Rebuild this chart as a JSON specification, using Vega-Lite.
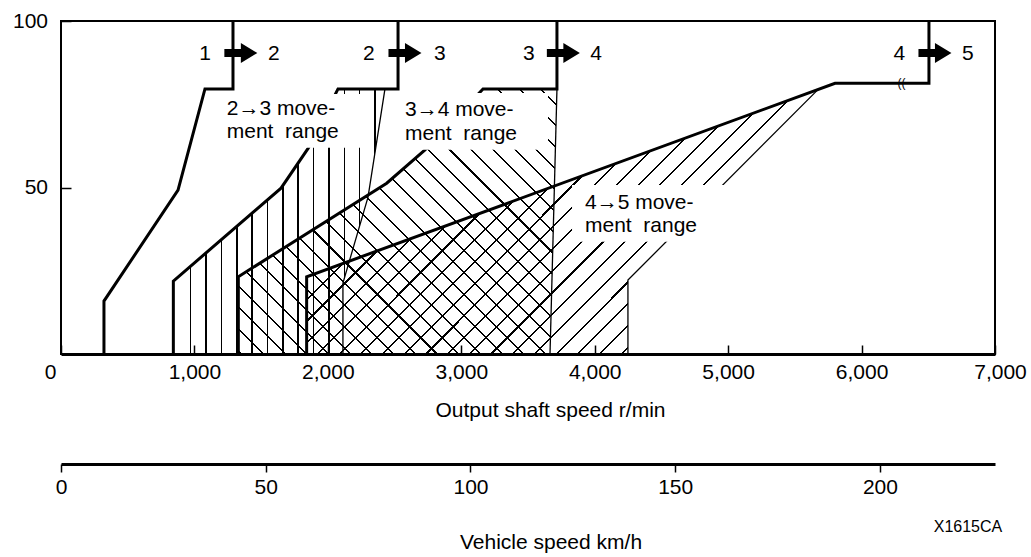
{
  "$schema": "https://vega.github.io/schema/vega-lite/v6.json",
  "width": 934,
  "height": 333,
  "autosize": "none",
  "padding": {"left": 61, "top": 21, "right": 36, "bottom": 203},
  "background": "white",
  "config": {
    "view": {"stroke": "black", "strokeWidth": 2},
    "font": "Liberation Sans",
    "axis": {"grid": false, "labelFont": "Liberation Sans", "titleFont": "Liberation Sans", "labelColor": "black", "titleColor": "black", "tickColor": "black", "domainColor": "black", "titleFontWeight": "normal", "labelFontSize": 21, "titleFontSize": 21, "labelFlush": false, "labelOverlap": false, "tickWidth": 1.5}
  },
  "datasets": {
    "regions": [
      {"region": "23", "rpm": 842, "pct": 21.9, "pct2": 0},
      {"region": "23", "rpm": 1649, "pct": 49.8, "pct2": 0},
      {"region": "23", "rpm": 1853, "pct": 61.8, "pct2": 0},
      {"region": "23", "rpm": 2076, "pct": 79.6, "pct2": 0},
      {"region": "23", "rpm": 2113, "pct": 79.6, "pct2": 0},
      {"region": "23", "rpm": 2114, "pct": 79.6, "pct2": 21.3},
      {"region": "23", "rpm": 2301, "pct": 79.6, "pct2": 47.1},
      {"region": "23", "rpm": 2428, "pct": 79.6, "pct2": 79.6},
      {"region": "34", "rpm": 1329, "pct": 23.2, "pct2": 0},
      {"region": "34", "rpm": 2441, "pct": 51.3, "pct2": 0},
      {"region": "34", "rpm": 2728, "pct": 61.3, "pct2": 0},
      {"region": "34", "rpm": 3163, "pct": 79.6, "pct2": 0},
      {"region": "34", "rpm": 3665, "pct": 79.6, "pct2": 0},
      {"region": "34", "rpm": 3717, "pct": 79.6, "pct2": 79.6},
      {"region": "45", "rpm": 1841, "pct": 23.2, "pct2": 0},
      {"region": "45", "rpm": 4249, "pct": 58.53, "pct2": 0},
      {"region": "45", "rpm": 4250, "pct": 58.55, "pct2": 22.2},
      {"region": "45", "rpm": 5673, "pct": 79.4, "pct2": 79.4}
    ],
    "lines": [
      {"series": "L12", "i": 1, "rpm": 322, "pct": 0},
      {"series": "L12", "i": 2, "rpm": 322, "pct": 15.9},
      {"series": "L12", "i": 3, "rpm": 877, "pct": 49.2},
      {"series": "L12", "i": 4, "rpm": 1079, "pct": 79.6},
      {"series": "L12", "i": 5, "rpm": 1289, "pct": 79.6},
      {"series": "L12", "i": 6, "rpm": 1289, "pct": 100},
      {"series": "L23", "i": 1, "rpm": 842, "pct": 0},
      {"series": "L23", "i": 2, "rpm": 842, "pct": 21.9},
      {"series": "L23", "i": 3, "rpm": 1649, "pct": 49.8},
      {"series": "L23", "i": 4, "rpm": 1853, "pct": 61.8},
      {"series": "L23", "i": 5, "rpm": 2076, "pct": 79.6},
      {"series": "L23", "i": 6, "rpm": 2526, "pct": 79.6},
      {"series": "L23", "i": 7, "rpm": 2526, "pct": 100},
      {"series": "L34", "i": 1, "rpm": 1329, "pct": 0},
      {"series": "L34", "i": 2, "rpm": 1329, "pct": 23.2},
      {"series": "L34", "i": 3, "rpm": 2441, "pct": 51.3},
      {"series": "L34", "i": 4, "rpm": 2728, "pct": 61.3},
      {"series": "L34", "i": 5, "rpm": 3163, "pct": 79.6},
      {"series": "L34", "i": 6, "rpm": 3717, "pct": 79.6},
      {"series": "L34", "i": 7, "rpm": 3717, "pct": 100},
      {"series": "L45", "i": 1, "rpm": 1841, "pct": 0},
      {"series": "L45", "i": 2, "rpm": 1841, "pct": 23.2},
      {"series": "L45", "i": 3, "rpm": 5801, "pct": 81.3},
      {"series": "L45", "i": 4, "rpm": 6505, "pct": 81.3},
      {"series": "L45", "i": 5, "rpm": 6505, "pct": 100},
      {"series": "T23", "i": 1, "rpm": 2428, "pct": 79.6},
      {"series": "T23", "i": 2, "rpm": 2301, "pct": 47.1},
      {"series": "T23", "i": 3, "rpm": 2113, "pct": 21.3},
      {"series": "T23", "i": 4, "rpm": 2113, "pct": 0},
      {"series": "T34", "i": 1, "rpm": 3717, "pct": 79.6},
      {"series": "T34", "i": 2, "rpm": 3665, "pct": 0},
      {"series": "T45", "i": 1, "rpm": 5673, "pct": 79.4},
      {"series": "T45", "i": 2, "rpm": 4249, "pct": 22.2},
      {"series": "T45", "i": 3, "rpm": 4249, "pct": 0}
    ],
    "boxes": [
      {"rpm": 1207, "rpm2": 2278, "pct": 78.1, "pct2": 61.9},
      {"rpm": 2481, "rpm2": 3650, "pct": 78.4, "pct2": 61.3},
      {"rpm": 3830, "rpm2": 5051, "pct": 50.75, "pct2": 33.7}
    ],
    "labels": [
      {"kind": "move", "rpm": 1242, "pct": 71.77, "text": "2→3 move-"},
      {"kind": "move", "rpm": 1242, "pct": 64.77, "text": "ment\u00a0 range"},
      {"kind": "move", "rpm": 2578, "pct": 71.47, "text": "3→4 move-"},
      {"kind": "move", "rpm": 2578, "pct": 64.26, "text": "ment\u00a0 range"},
      {"kind": "move", "rpm": 3927, "pct": 43.45, "text": "4→5 move-"},
      {"kind": "move", "rpm": 3927, "pct": 36.73, "text": "ment\u00a0 range"},
      {"kind": "shift", "rpm": 1079, "pct": 88.29, "text": "1"},
      {"kind": "shift", "rpm": 1596, "pct": 88.29, "text": "2"},
      {"kind": "shift", "rpm": 2308, "pct": 88.29, "text": "2"},
      {"kind": "shift", "rpm": 2840, "pct": 88.29, "text": "3"},
      {"kind": "shift", "rpm": 3507, "pct": 88.29, "text": "3"},
      {"kind": "shift", "rpm": 4010, "pct": 88.29, "text": "4"},
      {"kind": "shift", "rpm": 6284, "pct": 88.29, "text": "4"},
      {"kind": "shift", "rpm": 6797, "pct": 88.29, "text": "5"}
    ],
    "arrows": [
      {"rpm": 1348, "pct": 90.39},
      {"rpm": 2578, "pct": 90.39},
      {"rpm": 3765, "pct": 90.39},
      {"rpm": 6550, "pct": 90.39}
    ],
    "breaks": [
      {"rpm": 6299, "pct": 81.3, "text": "(("}
    ],
    "vehicle": [
      {"kmh": 0},
      {"kmh": 228.1}
    ],
    "note": [
      {"kmh": 221.5, "pct": -53.45, "text": "X1615CA"}
    ]
  },
  "layer": [
    {
      "encoding": {
        "x": {
          "field": "rpm", "type": "quantitative",
          "scale": {"domain": [0, 7000], "nice": false, "zero": false},
          "axis": {
            "values": [0, 1000, 2000, 3000, 4000, 5000, 6000, 7000],
            "format": ",d",
            "tickSize": -9,
            "domainWidth": 3,
            "labelBaseline": "alphabetic",
            "labelPadding": 33.3,
            "labelOffset": {"condition": [{"test": "datum.value === 0", "value": -11}, {"test": "datum.value === 7000", "value": 5}], "value": 0},
            "title": "Output shaft speed r/min",
            "titleX": 489,
            "titleY": 62,
            "titleBaseline": "alphabetic",
            "titleAlign": "center"
          }
        },
        "y": {
          "field": "pct", "type": "quantitative", "stack": null,
          "scale": {"domain": [0, 100], "nice": false, "zero": false},
          "axis": {"values": [50, 100], "tickSize": -10, "labelPadding": 23.5, "domain": false, "title": null, "labelBaseline": "middle"}
        }
      },
      "layer": [
        {
          "data": {"name": "regions"},
          "transform": [{"filter": "datum.region === '23'"}],
          "mark": {"type": "area", "fill": {"gradient": "linear", "x1": 0, "y1": 0, "x2": 1, "y2": 0, "stops": [
            {"offset": 0, "color": "rgba(0,0,0,0)"},
            {"offset": 0.07865, "color": "rgba(0,0,0,0)"}, {"offset": 0.07865, "color": "black"}, {"offset": 0.08573, "color": "black"}, {"offset": 0.08573, "color": "rgba(0,0,0,0)"},
            {"offset": 0.15121, "color": "rgba(0,0,0,0)"}, {"offset": 0.15121, "color": "black"}, {"offset": 0.15829, "color": "black"}, {"offset": 0.15829, "color": "rgba(0,0,0,0)"},
            {"offset": 0.22376, "color": "rgba(0,0,0,0)"}, {"offset": 0.22376, "color": "black"}, {"offset": 0.23084, "color": "black"}, {"offset": 0.23084, "color": "rgba(0,0,0,0)"},
            {"offset": 0.29632, "color": "rgba(0,0,0,0)"}, {"offset": 0.29632, "color": "black"}, {"offset": 0.30340, "color": "black"}, {"offset": 0.30340, "color": "rgba(0,0,0,0)"},
            {"offset": 0.36888, "color": "rgba(0,0,0,0)"}, {"offset": 0.36888, "color": "black"}, {"offset": 0.37596, "color": "black"}, {"offset": 0.37596, "color": "rgba(0,0,0,0)"},
            {"offset": 0.44143, "color": "rgba(0,0,0,0)"}, {"offset": 0.44143, "color": "black"}, {"offset": 0.44851, "color": "black"}, {"offset": 0.44851, "color": "rgba(0,0,0,0)"},
            {"offset": 0.51399, "color": "rgba(0,0,0,0)"}, {"offset": 0.51399, "color": "black"}, {"offset": 0.52107, "color": "black"}, {"offset": 0.52107, "color": "rgba(0,0,0,0)"},
            {"offset": 0.58654, "color": "rgba(0,0,0,0)"}, {"offset": 0.58654, "color": "black"}, {"offset": 0.59362, "color": "black"}, {"offset": 0.59362, "color": "rgba(0,0,0,0)"},
            {"offset": 0.65910, "color": "rgba(0,0,0,0)"}, {"offset": 0.65910, "color": "black"}, {"offset": 0.66618, "color": "black"}, {"offset": 0.66618, "color": "rgba(0,0,0,0)"},
            {"offset": 0.73165, "color": "rgba(0,0,0,0)"}, {"offset": 0.73165, "color": "black"}, {"offset": 0.73873, "color": "black"}, {"offset": 0.73873, "color": "rgba(0,0,0,0)"},
            {"offset": 0.80421, "color": "rgba(0,0,0,0)"}, {"offset": 0.80421, "color": "black"}, {"offset": 0.81129, "color": "black"}, {"offset": 0.81129, "color": "rgba(0,0,0,0)"},
            {"offset": 0.87676, "color": "rgba(0,0,0,0)"}, {"offset": 0.87676, "color": "black"}, {"offset": 0.88384, "color": "black"}, {"offset": 0.88384, "color": "rgba(0,0,0,0)"},
            {"offset": 0.94932, "color": "rgba(0,0,0,0)"}, {"offset": 0.94932, "color": "black"}, {"offset": 0.95640, "color": "black"}, {"offset": 0.95640, "color": "rgba(0,0,0,0)"},
            {"offset": 1, "color": "rgba(0,0,0,0)"}
          ]}},
          "encoding": {"y2": {"field": "pct2"}}
        },
        {
          "data": {"name": "regions"},
          "transform": [{"filter": "datum.region === '34'"}],
          "mark": {"type": "area", "fill": {"gradient": "linear", "x1": 0, "y1": 1, "x2": 1.08265, "y2": 0.09934, "stops": [
            {"offset": 0, "color": "rgba(0,0,0,0)"},
            {"offset": 0.00402, "color": "rgba(0,0,0,0)"}, {"offset": 0.00402, "color": "black"}, {"offset": 0.00762, "color": "black"}, {"offset": 0.00762, "color": "rgba(0,0,0,0)"},
            {"offset": 0.04120, "color": "rgba(0,0,0,0)"}, {"offset": 0.04120, "color": "black"}, {"offset": 0.04480, "color": "black"}, {"offset": 0.04480, "color": "rgba(0,0,0,0)"},
            {"offset": 0.07838, "color": "rgba(0,0,0,0)"}, {"offset": 0.07838, "color": "black"}, {"offset": 0.08198, "color": "black"}, {"offset": 0.08198, "color": "rgba(0,0,0,0)"},
            {"offset": 0.11555, "color": "rgba(0,0,0,0)"}, {"offset": 0.11555, "color": "black"}, {"offset": 0.11915, "color": "black"}, {"offset": 0.11915, "color": "rgba(0,0,0,0)"},
            {"offset": 0.15273, "color": "rgba(0,0,0,0)"}, {"offset": 0.15273, "color": "black"}, {"offset": 0.15633, "color": "black"}, {"offset": 0.15633, "color": "rgba(0,0,0,0)"},
            {"offset": 0.18991, "color": "rgba(0,0,0,0)"}, {"offset": 0.18991, "color": "black"}, {"offset": 0.19351, "color": "black"}, {"offset": 0.19351, "color": "rgba(0,0,0,0)"},
            {"offset": 0.22709, "color": "rgba(0,0,0,0)"}, {"offset": 0.22709, "color": "black"}, {"offset": 0.23069, "color": "black"}, {"offset": 0.23069, "color": "rgba(0,0,0,0)"},
            {"offset": 0.26426, "color": "rgba(0,0,0,0)"}, {"offset": 0.26426, "color": "black"}, {"offset": 0.26786, "color": "black"}, {"offset": 0.26786, "color": "rgba(0,0,0,0)"},
            {"offset": 0.30144, "color": "rgba(0,0,0,0)"}, {"offset": 0.30144, "color": "black"}, {"offset": 0.30504, "color": "black"}, {"offset": 0.30504, "color": "rgba(0,0,0,0)"},
            {"offset": 0.33862, "color": "rgba(0,0,0,0)"}, {"offset": 0.33862, "color": "black"}, {"offset": 0.34222, "color": "black"}, {"offset": 0.34222, "color": "rgba(0,0,0,0)"},
            {"offset": 0.37579, "color": "rgba(0,0,0,0)"}, {"offset": 0.37579, "color": "black"}, {"offset": 0.37939, "color": "black"}, {"offset": 0.37939, "color": "rgba(0,0,0,0)"},
            {"offset": 0.41297, "color": "rgba(0,0,0,0)"}, {"offset": 0.41297, "color": "black"}, {"offset": 0.41657, "color": "black"}, {"offset": 0.41657, "color": "rgba(0,0,0,0)"},
            {"offset": 0.45015, "color": "rgba(0,0,0,0)"}, {"offset": 0.45015, "color": "black"}, {"offset": 0.45375, "color": "black"}, {"offset": 0.45375, "color": "rgba(0,0,0,0)"},
            {"offset": 0.48732, "color": "rgba(0,0,0,0)"}, {"offset": 0.48732, "color": "black"}, {"offset": 0.49092, "color": "black"}, {"offset": 0.49092, "color": "rgba(0,0,0,0)"},
            {"offset": 0.52450, "color": "rgba(0,0,0,0)"}, {"offset": 0.52450, "color": "black"}, {"offset": 0.52810, "color": "black"}, {"offset": 0.52810, "color": "rgba(0,0,0,0)"},
            {"offset": 0.56168, "color": "rgba(0,0,0,0)"}, {"offset": 0.56168, "color": "black"}, {"offset": 0.56528, "color": "black"}, {"offset": 0.56528, "color": "rgba(0,0,0,0)"},
            {"offset": 0.59885, "color": "rgba(0,0,0,0)"}, {"offset": 0.59885, "color": "black"}, {"offset": 0.60245, "color": "black"}, {"offset": 0.60245, "color": "rgba(0,0,0,0)"},
            {"offset": 0.63603, "color": "rgba(0,0,0,0)"}, {"offset": 0.63603, "color": "black"}, {"offset": 0.63963, "color": "black"}, {"offset": 0.63963, "color": "rgba(0,0,0,0)"},
            {"offset": 0.67321, "color": "rgba(0,0,0,0)"}, {"offset": 0.67321, "color": "black"}, {"offset": 0.67681, "color": "black"}, {"offset": 0.67681, "color": "rgba(0,0,0,0)"},
            {"offset": 0.71038, "color": "rgba(0,0,0,0)"}, {"offset": 0.71038, "color": "black"}, {"offset": 0.71398, "color": "black"}, {"offset": 0.71398, "color": "rgba(0,0,0,0)"},
            {"offset": 0.74756, "color": "rgba(0,0,0,0)"}, {"offset": 0.74756, "color": "black"}, {"offset": 0.75116, "color": "black"}, {"offset": 0.75116, "color": "rgba(0,0,0,0)"},
            {"offset": 0.78474, "color": "rgba(0,0,0,0)"}, {"offset": 0.78474, "color": "black"}, {"offset": 0.78834, "color": "black"}, {"offset": 0.78834, "color": "rgba(0,0,0,0)"},
            {"offset": 0.82191, "color": "rgba(0,0,0,0)"}, {"offset": 0.82191, "color": "black"}, {"offset": 0.82551, "color": "black"}, {"offset": 0.82551, "color": "rgba(0,0,0,0)"},
            {"offset": 0.85909, "color": "rgba(0,0,0,0)"}, {"offset": 0.85909, "color": "black"}, {"offset": 0.86269, "color": "black"}, {"offset": 0.86269, "color": "rgba(0,0,0,0)"},
            {"offset": 0.89627, "color": "rgba(0,0,0,0)"}, {"offset": 0.89627, "color": "black"}, {"offset": 0.89987, "color": "black"}, {"offset": 0.89987, "color": "rgba(0,0,0,0)"},
            {"offset": 0.93344, "color": "rgba(0,0,0,0)"}, {"offset": 0.93344, "color": "black"}, {"offset": 0.93704, "color": "black"}, {"offset": 0.93704, "color": "rgba(0,0,0,0)"},
            {"offset": 0.97062, "color": "rgba(0,0,0,0)"}, {"offset": 0.97062, "color": "black"}, {"offset": 0.97422, "color": "black"}, {"offset": 0.97422, "color": "rgba(0,0,0,0)"},
            {"offset": 1, "color": "rgba(0,0,0,0)"}
          ]}},
          "encoding": {"y2": {"field": "pct2"}}
        },
        {
          "data": {"name": "regions"},
          "transform": [{"filter": "datum.region === '45'"}],
          "mark": {"type": "area", "fill": {"gradient": "linear", "x1": 0, "y1": 0, "x2": 1.19715, "y2": 0.6183, "stops": [
            {"offset": 0, "color": "rgba(0,0,0,0)"},
            {"offset": 0.24119, "color": "rgba(0,0,0,0)"}, {"offset": 0.24119, "color": "black"}, {"offset": 0.24399, "color": "black"}, {"offset": 0.24399, "color": "rgba(0,0,0,0)"},
            {"offset": 0.26917, "color": "rgba(0,0,0,0)"}, {"offset": 0.26917, "color": "black"}, {"offset": 0.27197, "color": "black"}, {"offset": 0.27197, "color": "rgba(0,0,0,0)"},
            {"offset": 0.29716, "color": "rgba(0,0,0,0)"}, {"offset": 0.29716, "color": "black"}, {"offset": 0.29996, "color": "black"}, {"offset": 0.29996, "color": "rgba(0,0,0,0)"},
            {"offset": 0.32514, "color": "rgba(0,0,0,0)"}, {"offset": 0.32514, "color": "black"}, {"offset": 0.32794, "color": "black"}, {"offset": 0.32794, "color": "rgba(0,0,0,0)"},
            {"offset": 0.35313, "color": "rgba(0,0,0,0)"}, {"offset": 0.35313, "color": "black"}, {"offset": 0.35593, "color": "black"}, {"offset": 0.35593, "color": "rgba(0,0,0,0)"},
            {"offset": 0.38111, "color": "rgba(0,0,0,0)"}, {"offset": 0.38111, "color": "black"}, {"offset": 0.38391, "color": "black"}, {"offset": 0.38391, "color": "rgba(0,0,0,0)"},
            {"offset": 0.40910, "color": "rgba(0,0,0,0)"}, {"offset": 0.40910, "color": "black"}, {"offset": 0.41190, "color": "black"}, {"offset": 0.41190, "color": "rgba(0,0,0,0)"},
            {"offset": 0.43708, "color": "rgba(0,0,0,0)"}, {"offset": 0.43708, "color": "black"}, {"offset": 0.43988, "color": "black"}, {"offset": 0.43988, "color": "rgba(0,0,0,0)"},
            {"offset": 0.46507, "color": "rgba(0,0,0,0)"}, {"offset": 0.46507, "color": "black"}, {"offset": 0.46787, "color": "black"}, {"offset": 0.46787, "color": "rgba(0,0,0,0)"},
            {"offset": 0.49305, "color": "rgba(0,0,0,0)"}, {"offset": 0.49305, "color": "black"}, {"offset": 0.49585, "color": "black"}, {"offset": 0.49585, "color": "rgba(0,0,0,0)"},
            {"offset": 0.52104, "color": "rgba(0,0,0,0)"}, {"offset": 0.52104, "color": "black"}, {"offset": 0.52384, "color": "black"}, {"offset": 0.52384, "color": "rgba(0,0,0,0)"},
            {"offset": 0.54903, "color": "rgba(0,0,0,0)"}, {"offset": 0.54903, "color": "black"}, {"offset": 0.55183, "color": "black"}, {"offset": 0.55183, "color": "rgba(0,0,0,0)"},
            {"offset": 0.57701, "color": "rgba(0,0,0,0)"}, {"offset": 0.57701, "color": "black"}, {"offset": 0.57981, "color": "black"}, {"offset": 0.57981, "color": "rgba(0,0,0,0)"},
            {"offset": 0.60500, "color": "rgba(0,0,0,0)"}, {"offset": 0.60500, "color": "black"}, {"offset": 0.60780, "color": "black"}, {"offset": 0.60780, "color": "rgba(0,0,0,0)"},
            {"offset": 0.63298, "color": "rgba(0,0,0,0)"}, {"offset": 0.63298, "color": "black"}, {"offset": 0.63578, "color": "black"}, {"offset": 0.63578, "color": "rgba(0,0,0,0)"},
            {"offset": 0.66097, "color": "rgba(0,0,0,0)"}, {"offset": 0.66097, "color": "black"}, {"offset": 0.66377, "color": "black"}, {"offset": 0.66377, "color": "rgba(0,0,0,0)"},
            {"offset": 0.68895, "color": "rgba(0,0,0,0)"}, {"offset": 0.68895, "color": "black"}, {"offset": 0.69175, "color": "black"}, {"offset": 0.69175, "color": "rgba(0,0,0,0)"},
            {"offset": 0.71694, "color": "rgba(0,0,0,0)"}, {"offset": 0.71694, "color": "black"}, {"offset": 0.71974, "color": "black"}, {"offset": 0.71974, "color": "rgba(0,0,0,0)"},
            {"offset": 0.74492, "color": "rgba(0,0,0,0)"}, {"offset": 0.74492, "color": "black"}, {"offset": 0.74772, "color": "black"}, {"offset": 0.74772, "color": "rgba(0,0,0,0)"},
            {"offset": 0.77291, "color": "rgba(0,0,0,0)"}, {"offset": 0.77291, "color": "black"}, {"offset": 0.77571, "color": "black"}, {"offset": 0.77571, "color": "rgba(0,0,0,0)"},
            {"offset": 1, "color": "rgba(0,0,0,0)"}
          ]}},
          "encoding": {"y2": {"field": "pct2"}}
        },
        {
          "data": {"name": "lines"},
          "transform": [{"filter": {"field": "series", "oneOf": ["T23", "T34", "T45"]}}],
          "mark": {"type": "line", "color": "black", "strokeWidth": 1.3},
          "encoding": {"detail": {"field": "series"}, "order": {"field": "i", "type": "quantitative"}}
        },
        {
          "data": {"name": "lines"},
          "transform": [{"filter": {"field": "series", "oneOf": ["L12", "L23", "L34", "L45"]}}],
          "mark": {"type": "line", "color": "black", "strokeWidth": 3, "strokeJoin": "miter"},
          "encoding": {"detail": {"field": "series"}, "order": {"field": "i", "type": "quantitative"}}
        },
        {
          "data": {"name": "boxes"},
          "mark": {"type": "rect", "color": "white", "opacity": 1},
          "encoding": {"x2": {"field": "rpm2"}, "y2": {"field": "pct2"}}
        },
        {
          "data": {"name": "labels"},
          "transform": [{"filter": "datum.kind === 'move'"}],
          "mark": {"type": "text", "align": "left", "baseline": "alphabetic", "fontSize": 21, "font": "Liberation Sans", "color": "black"},
          "encoding": {"text": {"field": "text"}}
        },
        {
          "data": {"name": "labels"},
          "transform": [{"filter": "datum.kind === 'shift'"}],
          "mark": {"type": "text", "align": "center", "baseline": "alphabetic", "fontSize": 21, "font": "Liberation Sans", "color": "black"},
          "encoding": {"text": {"field": "text"}}
        },
        {
          "data": {"name": "arrows"},
          "mark": {"type": "point", "shape": "M-1,-0.24L0,-0.24L0,-0.606L1,0L0,0.606L0,0.24L-1,0.24Z", "size": 1089, "filled": true, "color": "black", "opacity": 1, "strokeWidth": 0}
        },
        {
          "data": {"name": "breaks"},
          "mark": {"type": "text", "align": "center", "baseline": "middle", "fontSize": 12, "color": "black"},
          "encoding": {"text": {"field": "text"}}
        }
      ]
    },
    {
      "encoding": {
        "x": {
          "field": "kmh", "type": "quantitative",
          "scale": {"domain": [0, 228.1], "nice": false, "zero": false},
          "axis": {
            "orient": "bottom",
            "offset": 110,
            "values": [0, 50, 100, 150, 200],
            "tickSize": 8,
            "domainWidth": 3,
            "labelBaseline": "alphabetic",
            "labelPadding": 21.3,
            "title": "Vehicle speed km/h",
            "titleX": 489.5,
            "titleY": 84.3,
            "titleBaseline": "alphabetic",
            "titleAlign": "center"
          }
        }
      },
      "layer": [
        {
          "data": {"name": "vehicle"},
          "mark": {"type": "point", "opacity": 0}
        },
        {
          "data": {"name": "note"},
          "mark": {"type": "text", "align": "center", "baseline": "alphabetic", "fontSize": 16, "font": "Liberation Sans", "color": "black"},
          "encoding": {
            "y": {"field": "pct", "type": "quantitative", "scale": {"domain": [0, 100], "nice": false, "zero": false}, "axis": null},
            "text": {"field": "text"}
          }
        }
      ]
    }
  ],
  "resolve": {"scale": {"x": "independent", "y": "independent"}, "axis": {"x": "independent", "y": "independent"}}
}
